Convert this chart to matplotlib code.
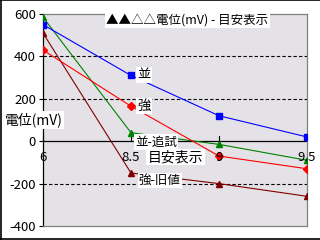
import matplotlib.pyplot as plt
from matplotlib.lines import Line2D

plt.rcParams['font.family'] = ['Noto Sans CJK JP', 'DejaVu Sans']

categories = ["6", "8.5", "9", "9.5"]
nami = [550, 310, 120, 20]
tsuyo = [430, 165, -70, -130]
nami_tsuishi = [585, 40, -15, -90]
tsuyo_kyuchi = [510, -150, -200, -260]

series = [
    ("並-追試", nami_tsuishi, "#008000", "^"),
    ("強-旧値", tsuyo_kyuchi, "#800000", "^"),
    ("並", nami, "#0000FF", "s"),
    ("強", tsuyo, "#FF0000", "D"),
]

yticks = [600, 400, 200, 0, -200, -400]

fig = plt.figure(figsize=(3.2, 2.4), dpi=100)
ax = fig.add_axes([43 / 320, 1 - 226 / 240, 264 / 320, 212 / 240])
ax.set_facecolor("#E4E2E6")

x = list(range(len(categories)))
for name, vals, color, mk in series:
    ms = 4 if mk == "D" else 4.5
    ax.plot(x, vals, color=color, lw=0.8, marker=mk, ms=ms, mec=color, mfc=color, zorder=3)

for g in (400, 200, -200):
    ax.axhline(g, color="black", lw=0.8, ls=(0, (3, 2)), zorder=1)
ax.axhline(0, color="black", lw=0.9, zorder=2)

ax.set_xlim(0, len(categories) - 1)
ax.set_ylim(-400, 600)
ax.set_yticks(yticks)
ax.set_yticklabels([str(v) for v in yticks], fontsize=9.5)
ax.tick_params(axis="y", length=3, width=0.8, pad=2)
ax.set_xticks([])

# category ticks and labels on the zero line
for i, c in enumerate(categories):
    ax.plot([i, i], [0, 25], color="black", lw=0.8, zorder=2, clip_on=False)
    ax.text(i, -75, c, ha="center", va="center", fontsize=9.5, zorder=4)

for side in ("top", "right", "bottom"):
    ax.spines[side].set_color("#808080")
    ax.spines[side].set_linewidth(0.9)
ax.spines["left"].set_color("black")
ax.spines["left"].set_linewidth(0.9)

box = dict(facecolor="white", edgecolor="none", pad=1)
ax.text(1.07, 314, "並", fontsize=9.5, va="center", ha="left", bbox=box, zorder=4)
ax.text(1.07, 165, "強", fontsize=9.5, va="center", ha="left", bbox=box, zorder=4)
ax.text(1.045, -5, "並-追試", fontsize=9, va="center", ha="left", bbox=box, zorder=4)
ax.text(1.09, -185, "強-旧値", fontsize=9, va="center", ha="left", bbox=box, zorder=4)
ax.text(1.19, -75, "目安表示", fontsize=10, va="center", ha="left", bbox=box, zorder=4)

fig.text(106 / 320, 1 - 20 / 240, "▲▲△△電位(mV) - 目安表示", fontsize=9,
         va="center", ha="left", bbox=box, zorder=5)
fig.text(5 / 320, 1 - 120 / 240, "電位(mV)", fontsize=10, va="center", ha="left",
         bbox=box, zorder=5)

# outer frame (top, left, bottom)
for xs, ys in (([0, 1], [0.998, 0.998]), ([0.002, 0.002], [0, 1]), ([0, 1], [0.004, 0.004])):
    fig.add_artist(Line2D(xs, ys, color="black", lw=1.2, transform=fig.transFigure))

fig.savefig("out.png", dpi=100)
